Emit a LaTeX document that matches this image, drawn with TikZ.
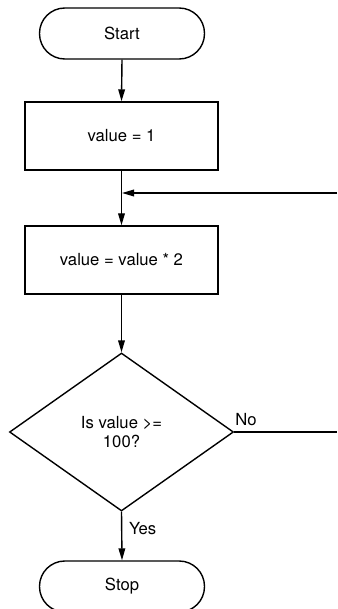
\documentclass[tikz,border=0pt]{standalone}
\usepackage{fontspec}
\setmainfont{TeX Gyre Heros}
\usetikzlibrary{shapes.geometric,arrows.meta}
\begin{document}
\begin{tikzpicture}[x=0.75pt,y=-0.75pt,
  every node/.style={font=\fontsize{12.5}{14}\selectfont},
  line/.style={line width=1.05pt},
  arr/.style={line, -{Triangle[length=9pt,width=5pt]}},
  terminal/.style={draw, line width=1.05pt, rectangle, rounded corners=19pt,
    minimum width=123.75pt, minimum height=38.25pt, inner sep=0pt},
  process/.style={draw, line width=1.05pt, rectangle,
    minimum width=144.75pt, minimum height=51pt, inner sep=0pt},
  decision/.style={draw, line width=1.05pt, diamond, align=center,
    font=\fontsize{12.5}{13.8}\selectfont,
    minimum width=168pt, minimum height=118.5pt, inner sep=0pt},
  lbl/.style={inner sep=0pt}]
\useasboundingbox (0,0) rectangle (337,609);
\node[terminal] (start) at (122,33.5) {Start};
\node[process] (box1) at (121.5,136) {value = 1};
\node[process] (box2) at (121.5,260) {value = value * 2};
\node[decision] (dia) at (121.5,432) {Is value >=\\100?};
\node[terminal] (stop) at (122,586.5) {Stop};
\coordinate (fbJ) at (122,193);
\coordinate (fbR) at (337,193);
\coordinate (noR) at (337,432);
\draw[arr] (start.south) -- (box1.north);
\draw[arr] (box1.south) -- (box2.north);
\draw[arr] (fbR) -- (fbJ);
\draw[arr] (box2.south) -- (dia.north);
\draw[line] (dia.east) -- (noR);
\node[lbl, anchor=south west] at (235,426) {No};
\draw[arr] (dia.south) -- node[lbl, right, xshift=5pt, pos=0.35] {Yes} (stop.north);
\end{tikzpicture}
\end{document}
